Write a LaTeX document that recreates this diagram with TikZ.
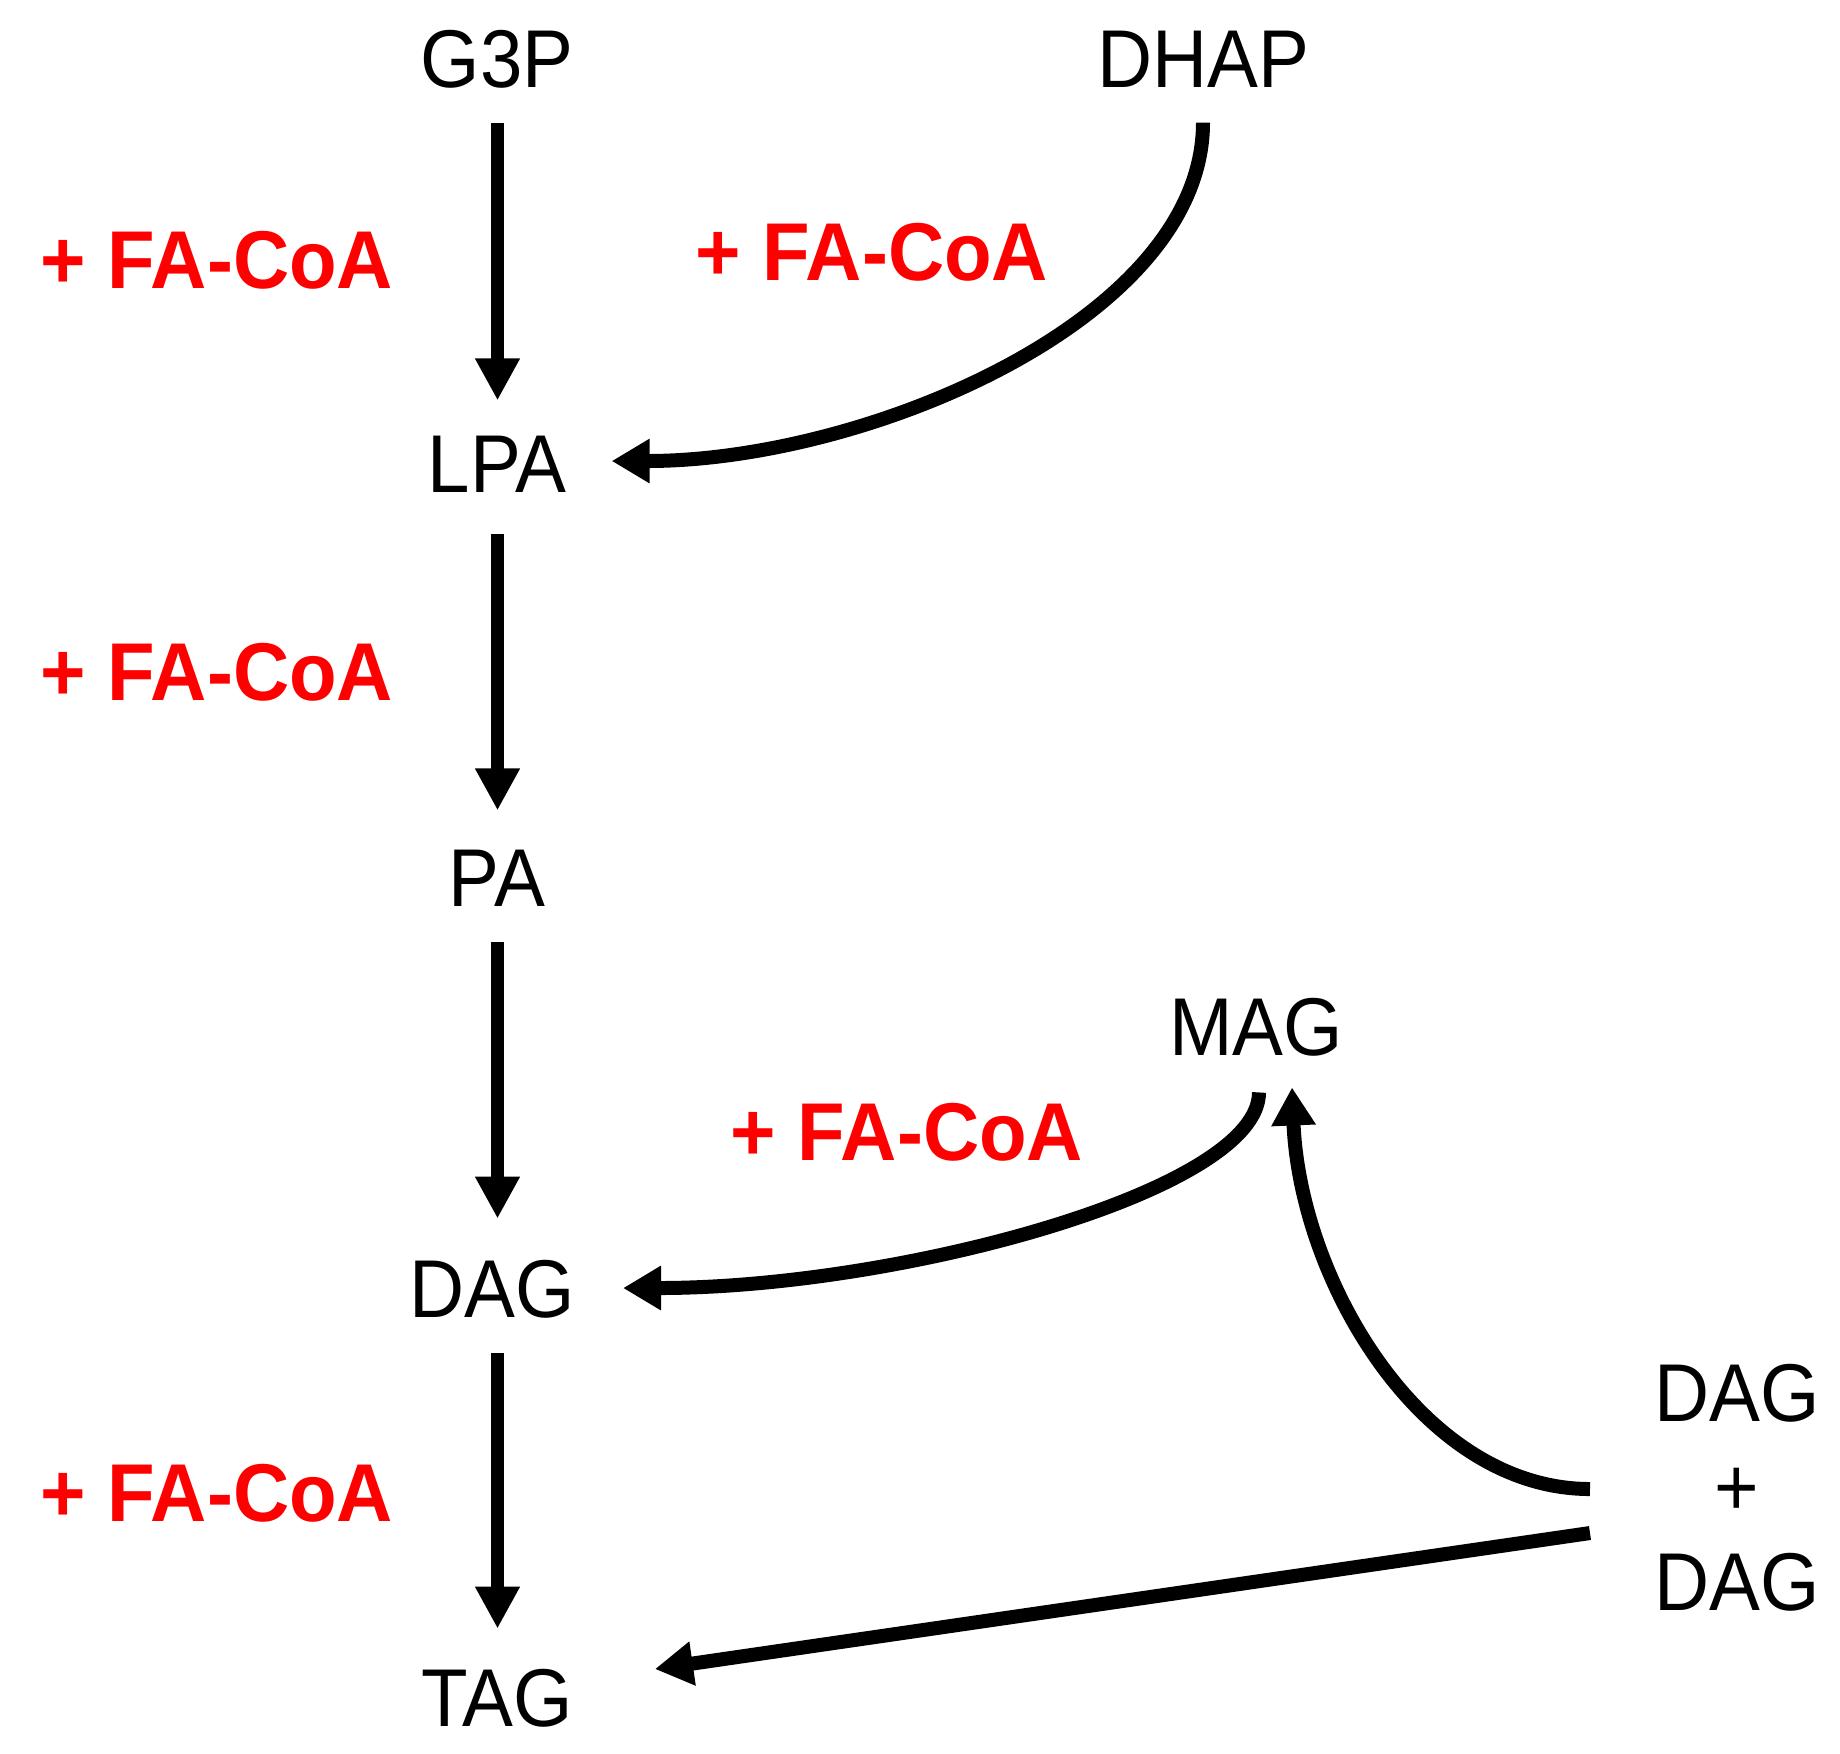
\documentclass[tikz,border=0pt]{standalone}
\usepackage{fontspec}
\setmainfont{Liberation Sans}
\newfontfamily\labfont[FakeStretch=0.93]{Liberation Sans}
\newfontfamily\fafont[FakeStretch=0.95]{Liberation Sans}
\usetikzlibrary{arrows.meta,calc}
\begin{document}
\begin{tikzpicture}[x=0.5pt,y=-0.5pt,
  lab/.style={inner sep=0pt, font=\labfont\fontsize{41pt}{47pt}\selectfont},
  fa/.style={inner sep=0pt, anchor=west, text=red, font=\fafont\fontsize{41pt}{47pt}\selectfont\bfseries},
  varr/.style={line width=6.5pt, -{Triangle[length=21pt,width=21pt]}},
  carr/.style={line width=7pt, -{Triangle[length=19pt,width=21pt]}}]
\useasboundingbox (0,0) rectangle (1840,1753);
% metabolites
\node[lab] (g3p)  at (497,59)   {G3P};
\node[lab] (dhap) at (1203,59)  {DHAP};
\node[lab] (lpa)  at (497,464)  {LPA};
\node[lab] (pa)   at (497,878)  {PA};
\node[lab] (dag)  at (492,1289) {DAG};
\node[lab] (tag)  at (497,1698) {TAG};
\node[lab] (mag)  at (1256,1027) {MAG};
\node[lab] (dag1) at (1737,1393) {DAG};
\node[lab] (plusn) at (1737,1492) {+};
\node[lab] (dag2) at (1737,1582) {DAG};
% FA-CoA labels
\node[fa] (fa1) at (40,260)  {+ FA-CoA};
\node[fa] (fa2) at (40,672)  {+ FA-CoA};
\node[fa] (fa3) at (40,1493) {+ FA-CoA};
\node[fa] (fa4) at (695,252) {+ FA-CoA};
\node[fa] (fa5) at (730,1132) {+ FA-CoA};
% vertical arrows
\draw[varr] ($(g3p.south)+(0.5,35)$) -- ($(lpa.north)+(0.5,-35)$);
\draw[varr] ($(lpa.south)+(0.5,41)$) -- ($(pa.north)+(0.5,-39)$);
\draw[varr] ($(pa.south)+(0.5,35)$) -- ($(pa.south |- dag.north)+(0.5,-41)$);
\draw[varr] ($(dag.south -| tag.north)+(0.5,35)$) -- ($(tag.north)+(0.5,-40)$);
% curved arrows
\draw[carr] ($(dhap.south)+(0,35)$) .. controls +(0,197) and +(254,0) .. ($(lpa.east)+(45,-3)$);
\draw[carr] ($(mag.south)+(3,36)$) .. controls +(0,98) and +(276,0) .. ($(dag.east)+(48,-1)$);
\draw[carr] ($(dag1.west |- plusn.center)+(-64,-3)$) .. controls +(-168,0) and +(8,193) .. ($(mag.south)+(36,31)$);
\draw[carr] ($(dag1.west |- plusn.center)+(-64,41)$) -- ($(tag.east)+(82,-29)$);
\end{tikzpicture}
\end{document}
